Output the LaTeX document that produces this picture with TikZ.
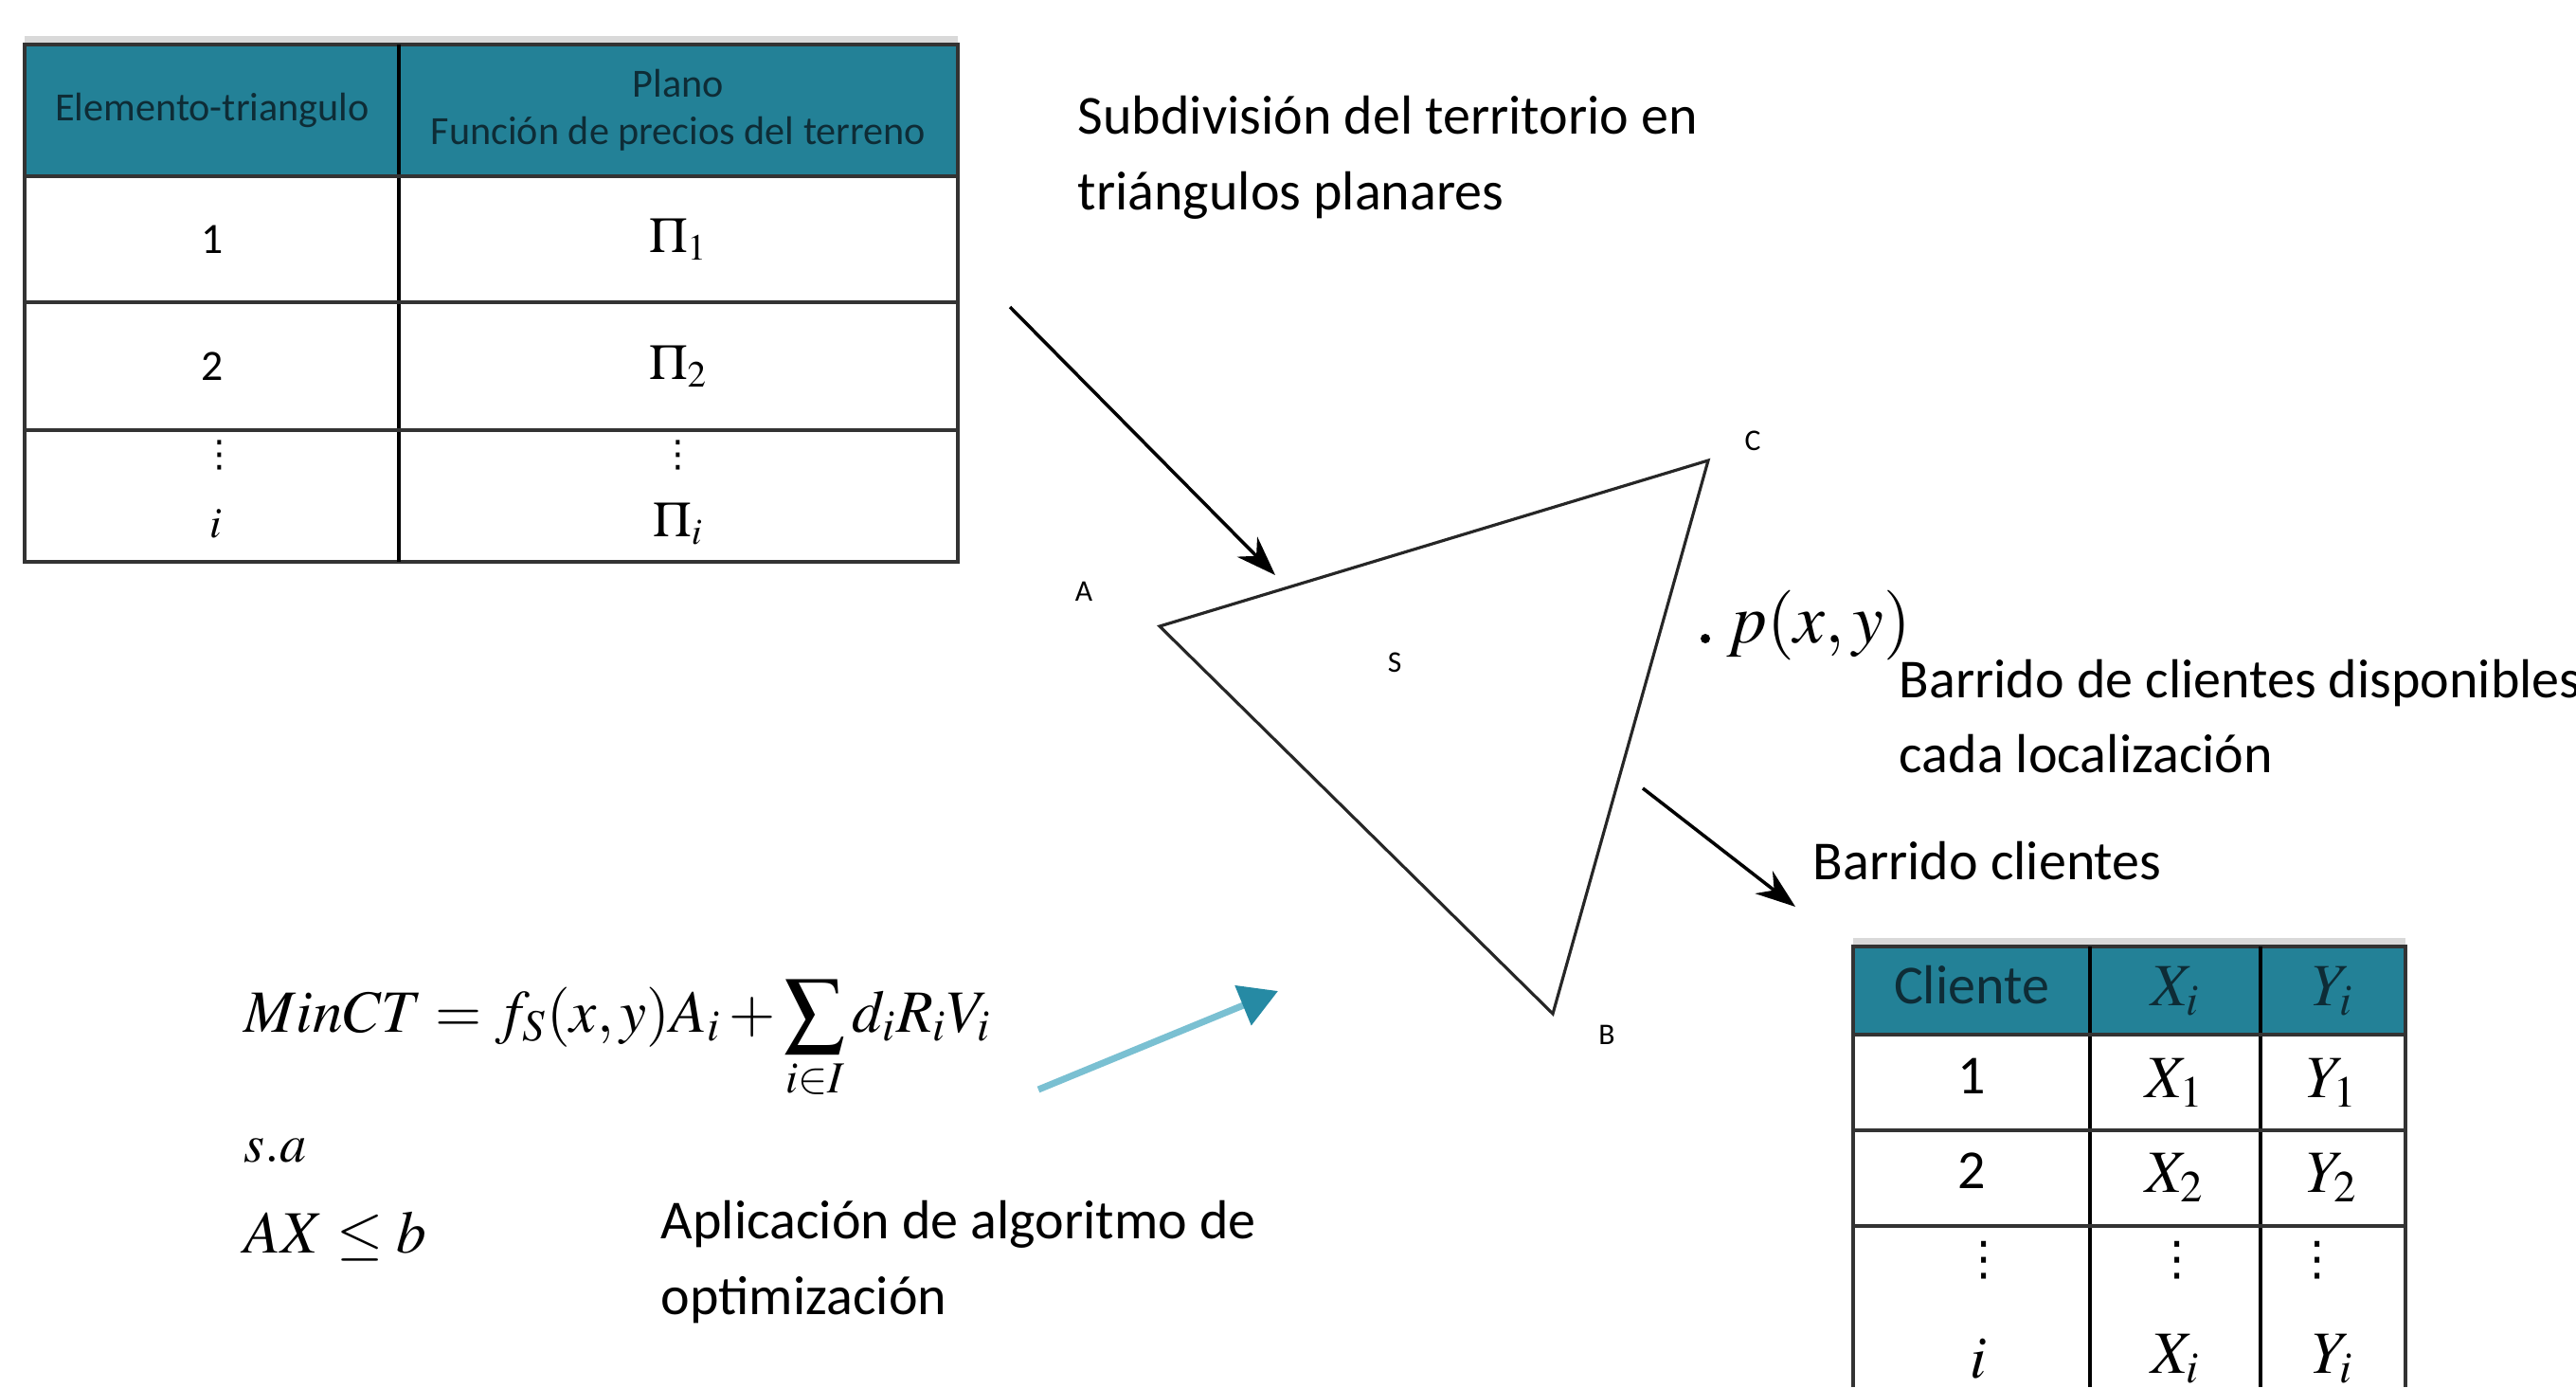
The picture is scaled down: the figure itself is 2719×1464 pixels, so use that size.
\documentclass[tikz,border=0pt]{standalone}
\usepackage{mathptmx}
\usepackage[no-math]{fontspec}
\setmainfont{Carlito}
\newfontfamily\simbolos{DejaVu Sans}
\usepackage{tikz}
\usetikzlibrary{arrows.meta, positioning}
\definecolor{cabecera}{RGB}{35,129,151}
\definecolor{textocab}{RGB}{14,44,54}
\definecolor{flechaclara}{RGB}{122,192,210}
\definecolor{flechaoscura}{RGB}{38,138,164}
\tikzstyle{texto} = [align=left, anchor=west, inner sep=0pt, font=\fontsize{16.5}{22.7}\selectfont]
\tikzstyle{celda} = [inner sep=0pt, font=\fontsize{13}{15}\selectfont]
\tikzstyle{celdados} = [inner sep=0pt, font=\fontsize{18}{21}\selectfont]
\tikzstyle{puntos} = [inner sep=0pt, font=\simbolos\fontsize{11}{12}\selectfont]
\tikzstyle{vertice} = [inner sep=0pt, font=\fontsize{9}{10}\selectfont]
\tikzstyle{formula} = [anchor=base west, inner sep=0pt, font=\fontsize{18}{22}\selectfont]
\tikzstyle{rejilla} = [line width=1.1pt, draw=black!80]
\tikzstyle{sombra} = [line width=2.5pt, draw=gray!30]
\tikzstyle{arrow} = [line width=1pt, -{Stealth[length=4.2mm, width=3mm]}]

\begin{document}
\begin{tikzpicture}[x=0.01cm, y=-0.01cm]
        \useasboundingbox (0,0) rectangle (2719,1464);
        % tabla de triangulos
        \fill[cabecera] (26,47) rectangle (1011,186);
        \draw[sombra] (26,42) -- (1011,42);
        \draw[rejilla] (26,47) rectangle (1011,593);
        \draw[rejilla, draw=black] (421,47) -- (421,593);
        \foreach \y in {186,319,454} \draw[rejilla] (26,\y) -- (1011,\y);
        \node (elemento) [celda, text=textocab, font=\fontsize{12}{14.2}\selectfont] at (224,116) {Elemento-triangulo};
        \node (plano) [celda, text=textocab, align=center, font=\fontsize{12}{14.2}\selectfont] at (716,116) {Plano\\Función de precios del terreno};
        \node (tri1) [celda] at (224,253) {1};
        \node (pi1) [celda, font=\fontsize{15}{17}\selectfont] at (716,253) {$\Pi_1$};
        \node (tri2) [celda] at (224,387) {2};
        \node (pi2) [celda, font=\fontsize{15}{17}\selectfont] at (716,387) {$\Pi_2$};
        \node (tripuntos) [puntos] at (232,480) {⋮};
        \node (pipuntos) [puntos] at (716,480) {⋮};
        \node (trii) [celda] at (228,553) {$i$};
        \node (pii) [celda, font=\fontsize{15}{17}\selectfont] at (716,553) {$\Pi_i$};

        \node (subdivision) [texto] at (1137,166) {Subdivisión del territorio en\\triángulos planares};

        % triangulo S
        \coordinate (A) at (1224,661);
        \coordinate (B) at (1639,1070);
        \coordinate (C) at (1803,486);
        \draw[line width=0.9pt, black!85] (A) -- (C) -- (B) -- cycle;
        \node (etqA) [vertice] at (1144,624) {A};
        \node (etqB) [vertice] at (1696,1092) {B};
        \node (etqC) [vertice] at (1850,465) {C};
        \node (etqS) [vertice] at (1472,699) {S};
        \node (punto) [circle, fill=black, inner sep=0pt, minimum size=0.1cm] at (1800,674) {};
        \node (pxy) [formula, font=\fontsize{21}{24}\selectfont] at (1822,678) {$p(x,y)$};
        \node (disponibles) [texto] at (2004,756) {Barrido de clientes disponibles\\cada localización};
        \node (barrido) [texto] at (1913,909) {Barrido clientes};

        \coordinate (ini1) at (1066,324);
        \coordinate (fin1) at (1346,607);
        \coordinate (ini2) at (1734,832);
        \coordinate (fin2) at (1895,957);
        \draw [arrow] (ini1) -- (fin1);
        \draw [arrow] (ini2) -- (fin2);

        % tabla de clientes
        \fill[cabecera] (1956,999) rectangle (2539,1092);
        \draw[sombra] (1956,994) -- (2539,994);
        \draw[rejilla] (1956,1464) -- (1956,999) -- (2539,999) -- (2539,1464);
        \foreach \x in {2206,2386} \draw[rejilla, draw=black] (\x,999) -- (\x,1464);
        \foreach \y in {1092,1193,1294} \draw[rejilla] (1956,\y) -- (2539,\y);
        \node (cliente) [celdados, text=textocab, font=\fontsize{16.5}{19}\selectfont] at (2081,1040) {Cliente};
        \node (xcab) [celdados, text=textocab] at (2296,1046) {$X_i$};
        \node (ycab) [celdados, text=textocab] at (2462,1046) {$Y_i$};
        \node (cli1) [celdados, font=\fontsize{16.5}{19}\selectfont] at (2081,1136) {1};
        \node (x1) [celdados] at (2296,1143) {$X_1$};
        \node (y1) [celdados] at (2462,1143) {$Y_1$};
        \node (cli2) [celdados, font=\fontsize{16.5}{19}\selectfont] at (2081,1236) {2};
        \node (x2) [celdados] at (2296,1243) {$X_2$};
        \node (y2) [celdados] at (2462,1243) {$Y_2$};
        \node (clipuntos) [puntos, font=\simbolos\fontsize{14}{15}\selectfont] at (2094,1330) {⋮};
        \node (xpuntos) [puntos, font=\simbolos\fontsize{14}{15}\selectfont] at (2298,1330) {⋮};
        \node (ypuntos) [puntos, font=\simbolos\fontsize{14}{15}\selectfont] at (2446,1330) {⋮};
        \node (clii) [celdados] at (2088,1434) {$i$};
        \node (xi) [celdados] at (2296,1434) {$X_i$};
        \node (yi) [celdados] at (2462,1434) {$Y_i$};

        % modelo de optimizacion
        \node (objetivo) [formula] at (257,1089) {$MinCT = f_S(x,y)A_i + \displaystyle\sum_{i\in I} d_iR_iV_i$};
        \node (sujeto) [formula, font=\fontsize{16}{19}\selectfont] at (257,1226) {$s.a$};
        \node (restriccion) [formula] at (257,1322) {$AX \leq b$};
        \node (aplicacion) [texto] at (697,1332) {Aplicación de algoritmo de\\optimización};
        \coordinate (ini3) at (1096,1150);
        \coordinate (fin3) at (1349,1046);
        \draw [line width=2pt, flechaclara, -{Triangle[length=4mm, width=4.4mm, color=flechaoscura]}] (ini3) -- (fin3);
    \end{tikzpicture}
\end{document}
